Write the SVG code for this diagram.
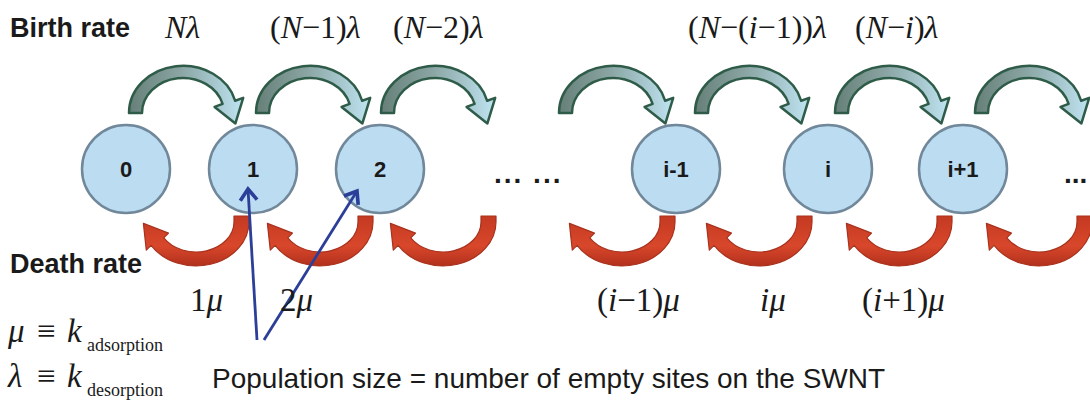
<svg xmlns="http://www.w3.org/2000/svg" width="1090" height="404" viewBox="0 0 1090 404">
<style>
.lbl{font-family:"Liberation Sans",Arial,sans-serif;font-weight:bold;fill:#1a1a1a}
.node circle{fill:#bcdcf2;stroke:#71889a;stroke-width:2.5}
.node text{font-family:"Liberation Sans",Arial,sans-serif;font-weight:bold;font-size:22px;fill:#1a1a1a;text-anchor:middle}
.m{font-family:"Liberation Serif","Times New Roman",serif;font-size:32px;fill:#1a1a1a}
.mb{font-size:33px}
.it{font-style:italic}
.sub{font-size:18px;font-style:normal}
.pop{font-family:"Liberation Sans",Arial,sans-serif;font-size:28px;fill:#1a1a1a}
.g{fill:url(#gg);stroke:#2e5c48;stroke-width:2.5;stroke-linejoin:round}
.r{fill:url(#rg);stroke:#a8321d;stroke-width:1.2;stroke-linejoin:round}
.b{stroke:#2c3f98;stroke-width:2.8;fill:none;marker-end:url(#ah)}
.dots{font-family:"Liberation Sans",Arial,sans-serif;font-weight:bold;font-size:28px;fill:#1a1a1a}
</style>
<defs>
<linearGradient id="gg" x1="0" y1="0" x2="1" y2="0">
<stop offset="0" stop-color="#667f78"/>
<stop offset="0.45" stop-color="#8aa5a3"/>
<stop offset="1" stop-color="#bfe4f2"/>
</linearGradient>
<linearGradient id="rg" x1="0" y1="0" x2="0" y2="1">
<stop offset="0" stop-color="#c43a22"/>
<stop offset="0.6" stop-color="#d8472b"/>
<stop offset="1" stop-color="#b2301c"/>
</linearGradient>
<path id="ga" class="g" d="M0,0 A54,47 0 0 1 106.2,-12.2 L114.2,-15.1 L106.4,10.4 L85.6,-6.1 L93.6,-9.1 A41,35 0 0 0 13,0 Z"/>
<path id="ra" class="r" d="M0,0 L0,6 A53,44 0 0 1 -97.9,29.3 L-102.7,34.1 L-105.6,7.4 L-80.5,17.1 L-85.2,21.9 A38,30 0 0 0 -15,6 L-15,0 Z"/>
<marker id="ah" markerWidth="8" markerHeight="8" refX="5" refY="4" orient="auto" markerUnits="strokeWidth">
<path d="M1,1 L5,4 L1,7" fill="none" stroke="#2c3f98" stroke-width="1.3"/>
</marker>
</defs>

<text class="lbl" x="10" y="37" font-size="27">Birth rate</text>
<text class="lbl" x="10" y="273" font-size="27">Death rate</text>

<g id="node-0" class="node"><circle cx="126" cy="169" r="44"/><text x="126" y="177">0</text></g>
<g id="node-1" class="node"><circle cx="253" cy="169" r="44"/><text x="253" y="177">1</text></g>
<g id="node-2" class="node"><circle cx="380" cy="169" r="44"/><text x="380" y="177">2</text></g>
<g id="node-im1" class="node"><circle cx="676" cy="169" r="44"/><text x="676" y="177">i-1</text></g>
<g id="node-i" class="node"><circle cx="828" cy="169" r="44"/><text x="828" y="177">i</text></g>
<g id="node-ip1" class="node"><circle cx="963" cy="169" r="44"/><text x="963" y="177">i+1</text></g>

<text class="dots" x="494" y="183" letter-spacing="2">... ...</text>
<text class="dots" x="1064" y="183">...</text>

<g id="connectors">
<use href="#ga" x="129" y="113"/>
<use href="#ga" x="256" y="113"/>
<use href="#ga" x="381" y="113"/>
<use href="#ga" x="559" y="113"/>
<use href="#ga" x="695" y="113"/>
<use href="#ga" x="835" y="113"/>
<use href="#ga" x="975" y="113"/>
<use href="#ra" x="249" y="216"/>
<use href="#ra" x="373" y="216"/>
<use href="#ra" x="496" y="216"/>
<use href="#ra" x="675" y="216"/>
<use href="#ra" x="812" y="216"/>
<use href="#ra" x="952" y="216"/>
<use href="#ra" x="1092" y="216"/>
<path class="b" d="M257,340 L248,189"/>
<path class="b" d="M264,340 L357,191"/>
</g>

<text class="m" x="165" y="38"><tspan class="it">Nλ</tspan></text>
<text class="m" x="270" y="38">(<tspan class="it">N</tspan>−1)<tspan class="it">λ</tspan></text>
<text class="m" x="393" y="38">(<tspan class="it">N</tspan>−2)<tspan class="it">λ</tspan></text>
<text class="m" x="688" y="38" font-size="29">(<tspan class="it">N</tspan>−(<tspan class="it">i</tspan>−1))<tspan class="it">λ</tspan></text>
<text class="m" x="855" y="38">(<tspan class="it">N</tspan>−<tspan class="it">i</tspan>)<tspan class="it">λ</tspan></text>

<text class="m mb" x="190" y="311">1<tspan class="it">μ</tspan></text>
<text class="m mb" x="280" y="311">2<tspan class="it">μ</tspan></text>
<text class="m mb" x="597" y="311">(<tspan class="it">i</tspan>−1)<tspan class="it">μ</tspan></text>
<text class="m mb" x="760" y="311"><tspan class="it">iμ</tspan></text>
<text class="m mb" x="862" y="311">(<tspan class="it">i</tspan>+1)<tspan class="it">μ</tspan></text>

<text class="m mb" x="8" y="342"><tspan class="it">μ</tspan><tspan x="37">≡</tspan><tspan x="67" class="it">k</tspan><tspan x="87" y="351" class="sub">adsorption</tspan></text>
<text class="m mb" x="8" y="387"><tspan class="it">λ</tspan><tspan x="37">≡</tspan><tspan x="67" class="it">k</tspan><tspan x="87" y="396" class="sub">desorption</tspan></text>

<text class="pop" x="212" y="388">Population size = number of empty sites on the SWNT</text>
</svg>
